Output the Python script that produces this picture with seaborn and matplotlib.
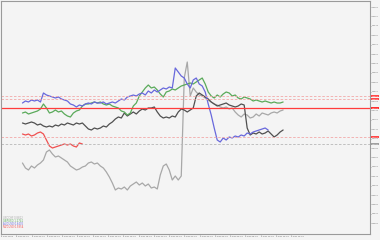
import numpy as np
import pandas as pd
import matplotlib
matplotlib.use("Agg")
import matplotlib.pyplot as plt
import matplotlib.transforms as mtrans
import seaborn as sns

# ---- data (prices) ----
blue = [1.0794, 1.0798, 1.0796, 1.0800, 1.0798, 1.0800, 1.0796, 1.0814, 1.0810, 1.0808,
        1.0806, 1.0804, 1.0806, 1.0802, 1.0800, 1.0798, 1.0792, 1.0790, 1.0786, 1.0790,
        1.0788, 1.0792, 1.0794, 1.0792, 1.0796, 1.0794, 1.0794, 1.0796, 1.0792, 1.0794,
        1.0796, 1.0794, 1.0798, 1.0802, 1.0800, 1.0806, 1.0808, 1.0810, 1.0808, 1.0812,
        1.0814, 1.0810, 1.0818, 1.0814, 1.0820, 1.0816, 1.0820, 1.0824, 1.0822, 1.0826,
        1.0824, 1.0864, 1.0856, 1.0848, 1.0844, 1.0832, 1.0824, 1.0840, 1.0844, 1.0832,
        1.0828, 1.0816, 1.0792, 1.0770, 1.0744, 1.0720, 1.0716, 1.0724, 1.0720, 1.0726,
        1.0724, 1.0728, 1.0726, 1.0730, 1.0728, 1.0734, 1.0732, 1.0736, 1.0738, 1.0740,
        1.0742, 1.0744, 1.0740]
green = [1.0774, 1.0776, 1.0772, 1.0774, 1.0776, 1.0778, 1.0782, 1.0792, 1.0784, 1.0774,
         1.0776, 1.0780, 1.0776, 1.0778, 1.0772, 1.0768, 1.0766, 1.0774, 1.0778, 1.0780,
         1.0788, 1.0792, 1.0792, 1.0794, 1.0796, 1.0794, 1.0796, 1.0792, 1.0790, 1.0792,
         1.0788, 1.0786, 1.0784, 1.0778, 1.0776, 1.0770, 1.0774, 1.0788, 1.0794, 1.0808,
         1.0816, 1.0824, 1.0830, 1.0824, 1.0826, 1.0820, 1.0812, 1.0806, 1.0816, 1.0818,
         1.0822, 1.0820, 1.0824, 1.0828, 1.0830, 1.0832, 1.0834, 1.0832, 1.0836, 1.0840,
         1.0844, 1.0832, 1.0816, 1.0808, 1.0804, 1.0810, 1.0806, 1.0812, 1.0816, 1.0814,
         1.0808, 1.0810, 1.0804, 1.0802, 1.0806, 1.0804, 1.0802, 1.0798, 1.0800, 1.0798,
         1.0796, 1.0798, 1.0796, 1.0794, 1.0796, 1.0794, 1.0794, 1.0796]
dark = [1.0754, 1.0752, 1.0754, 1.0756, 1.0754, 1.0750, 1.0752, 1.0748, 1.0746, 1.0748,
        1.0746, 1.0750, 1.0748, 1.0752, 1.0750, 1.0754, 1.0752, 1.0750, 1.0754, 1.0752,
        1.0754, 1.0748, 1.0742, 1.0740, 1.0744, 1.0742, 1.0744, 1.0748, 1.0746, 1.0752,
        1.0756, 1.0762, 1.0766, 1.0764, 1.0774, 1.0768, 1.0772, 1.0776, 1.0772, 1.0778,
        1.0782, 1.0780, 1.0784, 1.0784, 1.0786, 1.0776, 1.0768, 1.0764, 1.0766, 1.0764,
        1.0768, 1.0766, 1.0776, 1.0782, 1.0780, 1.0776, 1.0780, 1.0784, 1.0808, 1.0814,
        1.0810, 1.0806, 1.0802, 1.0796, 1.0792, 1.0788, 1.0790, 1.0792, 1.0794, 1.0790,
        1.0788, 1.0786, 1.0788, 1.0792, 1.0790, 1.0744, 1.0730, 1.0734, 1.0732, 1.0736,
        1.0732, 1.0734, 1.0738, 1.0732, 1.0726, 1.0730, 1.0736, 1.0740]
light = [1.0674, 1.0664, 1.0660, 1.0668, 1.0664, 1.0670, 1.0674, 1.0680, 1.0696, 1.0700,
         1.0692, 1.0686, 1.0688, 1.0684, 1.0680, 1.0676, 1.0668, 1.0664, 1.0660, 1.0662,
         1.0666, 1.0668, 1.0674, 1.0676, 1.0672, 1.0674, 1.0668, 1.0664, 1.0656, 1.0646,
         1.0634, 1.0620, 1.0624, 1.0622, 1.0626, 1.0620, 1.0628, 1.0632, 1.0636, 1.0630,
         1.0634, 1.0628, 1.0632, 1.0624, 1.0626, 1.0622, 1.0650, 1.0668, 1.0672, 1.0660,
         1.0640, 1.0648, 1.0640, 1.0648, 1.0844, 1.0876, 1.0808, 1.0824, 1.0816, 1.0810,
         1.0808, 1.0804, 1.0800, 1.0796, 1.0792, 1.0790, 1.0786, 1.0784, 1.0786, 1.0782,
         1.0784, 1.0776, 1.0770, 1.0766, 1.0772, 1.0770, 1.0764, 1.0766, 1.0772, 1.0768,
         1.0774, 1.0772, 1.0770, 1.0774, 1.0776, 1.0774, 1.0778, 1.0780]
red = [1.0732, 1.0730, 1.0732, 1.0728, 1.0730, 1.0734, 1.0736, 1.0732, 1.0720, 1.0708,
       1.0704, 1.0706, 1.0708, 1.0710, 1.0712, 1.0710, 1.0712, 1.0708, 1.0706, 1.0714,
       1.0712]

levels_dotted_red = [1.0808, 1.0802, 1.0726]
level_solid_red = 1.0784
level_gray = 1.0712

x_labels = ["5 Dec 2024", "5 Dec 02:00", "5 Dec 04:00", "5 Dec 06:00", "5 Dec 08:00",
            "5 Dec 10:00", "5 Dec 12:00", "5 Dec 14:00", "5 Dec 16:00", "5 Dec 18:00",
            "5 Dec 20:00", "5 Dec 22:00", "6 Dec 00:00", "6 Dec 02:00", "6 Dec 04:00",
            "6 Dec 06:00", "6 Dec 08:00", "6 Dec 10:00", "6 Dec 12:00", "6 Dec 14:00"]
legend_names = ["USDCHF 0.8812", "GBPUSD 1.2741", "AUDUSD 0.6402", "NZDUSD 0.5854"]
legend_colors = ["#a8a8a8", "#5aaa5a", "#6868dc", "#f05050"]

# ---- style ----
sns.set_theme(style="white", rc={"axes.facecolor": "#f4f4f4", "figure.facecolor": "#f4f4f4"})
plt.rcParams["font.family"] = ["DejaVu Sans"]

fig = plt.figure(figsize=(3.8, 2.4), dpi=100)
ax = fig.add_axes([1 / 380, 6 / 240, 369 / 380, 233 / 240])

series = [("light", light, "#a8a8a8"), ("dark", dark, "#505050"),
          ("green", green, "#5aaa5a"), ("blue", blue, "#6868dc"),
          ("red", red, "#f05050")]
for name, vals, col in series:
    df = pd.DataFrame({"t": np.arange(len(vals)), "p": vals})
    sns.lineplot(data=df, x="t", y="p", ax=ax, color=col, linewidth=0.9)

for lv in levels_dotted_red:
    ax.axhline(lv, color="#f2a8a8", linewidth=0.6, linestyle=(0, (3, 2)))
ax.axhline(level_solid_red, color="#ff3c3c", linewidth=0.9)
ax.axhline(level_gray, color="#b8b8b8", linewidth=0.6, linestyle=(0, (3, 2)))

ax.set_xlim(-7, 116)
ax.set_ylim(1.0532, 1.0998)
ax.set_xlabel("")
ax.set_ylabel("")

ax.yaxis.tick_right()
yt = 1.0986 - 0.00188 * np.arange(24)
ax.set_yticks(yt)
ax.set_yticklabels([f"{v:.4f}" for v in yt], fontsize=1.4, color="#606060")
ax.set_xticks((0.5 + 15.3 * np.arange(len(x_labels)) - 22) / 3)
ax.set_xticklabels(x_labels, fontsize=1.5, color="#606060", ha="left")
ax.tick_params(axis="both", length=0.7, width=0.4, pad=0.4, colors="#808080",
               labelcolor="#606060", right=True, bottom=True)

for s in ax.spines.values():
    s.set_color("#9a9a9a")
    s.set_linewidth(0.8)

# right-side price tags
trans = mtrans.blended_transform_factory(ax.transAxes, ax.transData)
for lv, fc in [(1.0808, "#ff4848"), (1.0802, "#ff4848"), (level_solid_red, "#ff3030"),
               (1.0726, "#ff4848"), (level_gray, "#a0a0a0")]:
    ax.text(1.004, lv, f"{lv:.4f}", transform=trans, fontsize=1.4, color="white",
            va="center", ha="left",
            bbox=dict(boxstyle="square,pad=0.3", fc=fc, ec="none"))

# legend text block bottom-left
for k, (txt, col) in enumerate(zip(legend_names, legend_colors)):
    ax.text(0.006, 0.0687 - k * 0.0129, txt, transform=ax.transAxes, fontsize=1.8,
            color=col, va="center", ha="left")

fig.savefig("out.png", dpi=100, facecolor=fig.get_facecolor())
